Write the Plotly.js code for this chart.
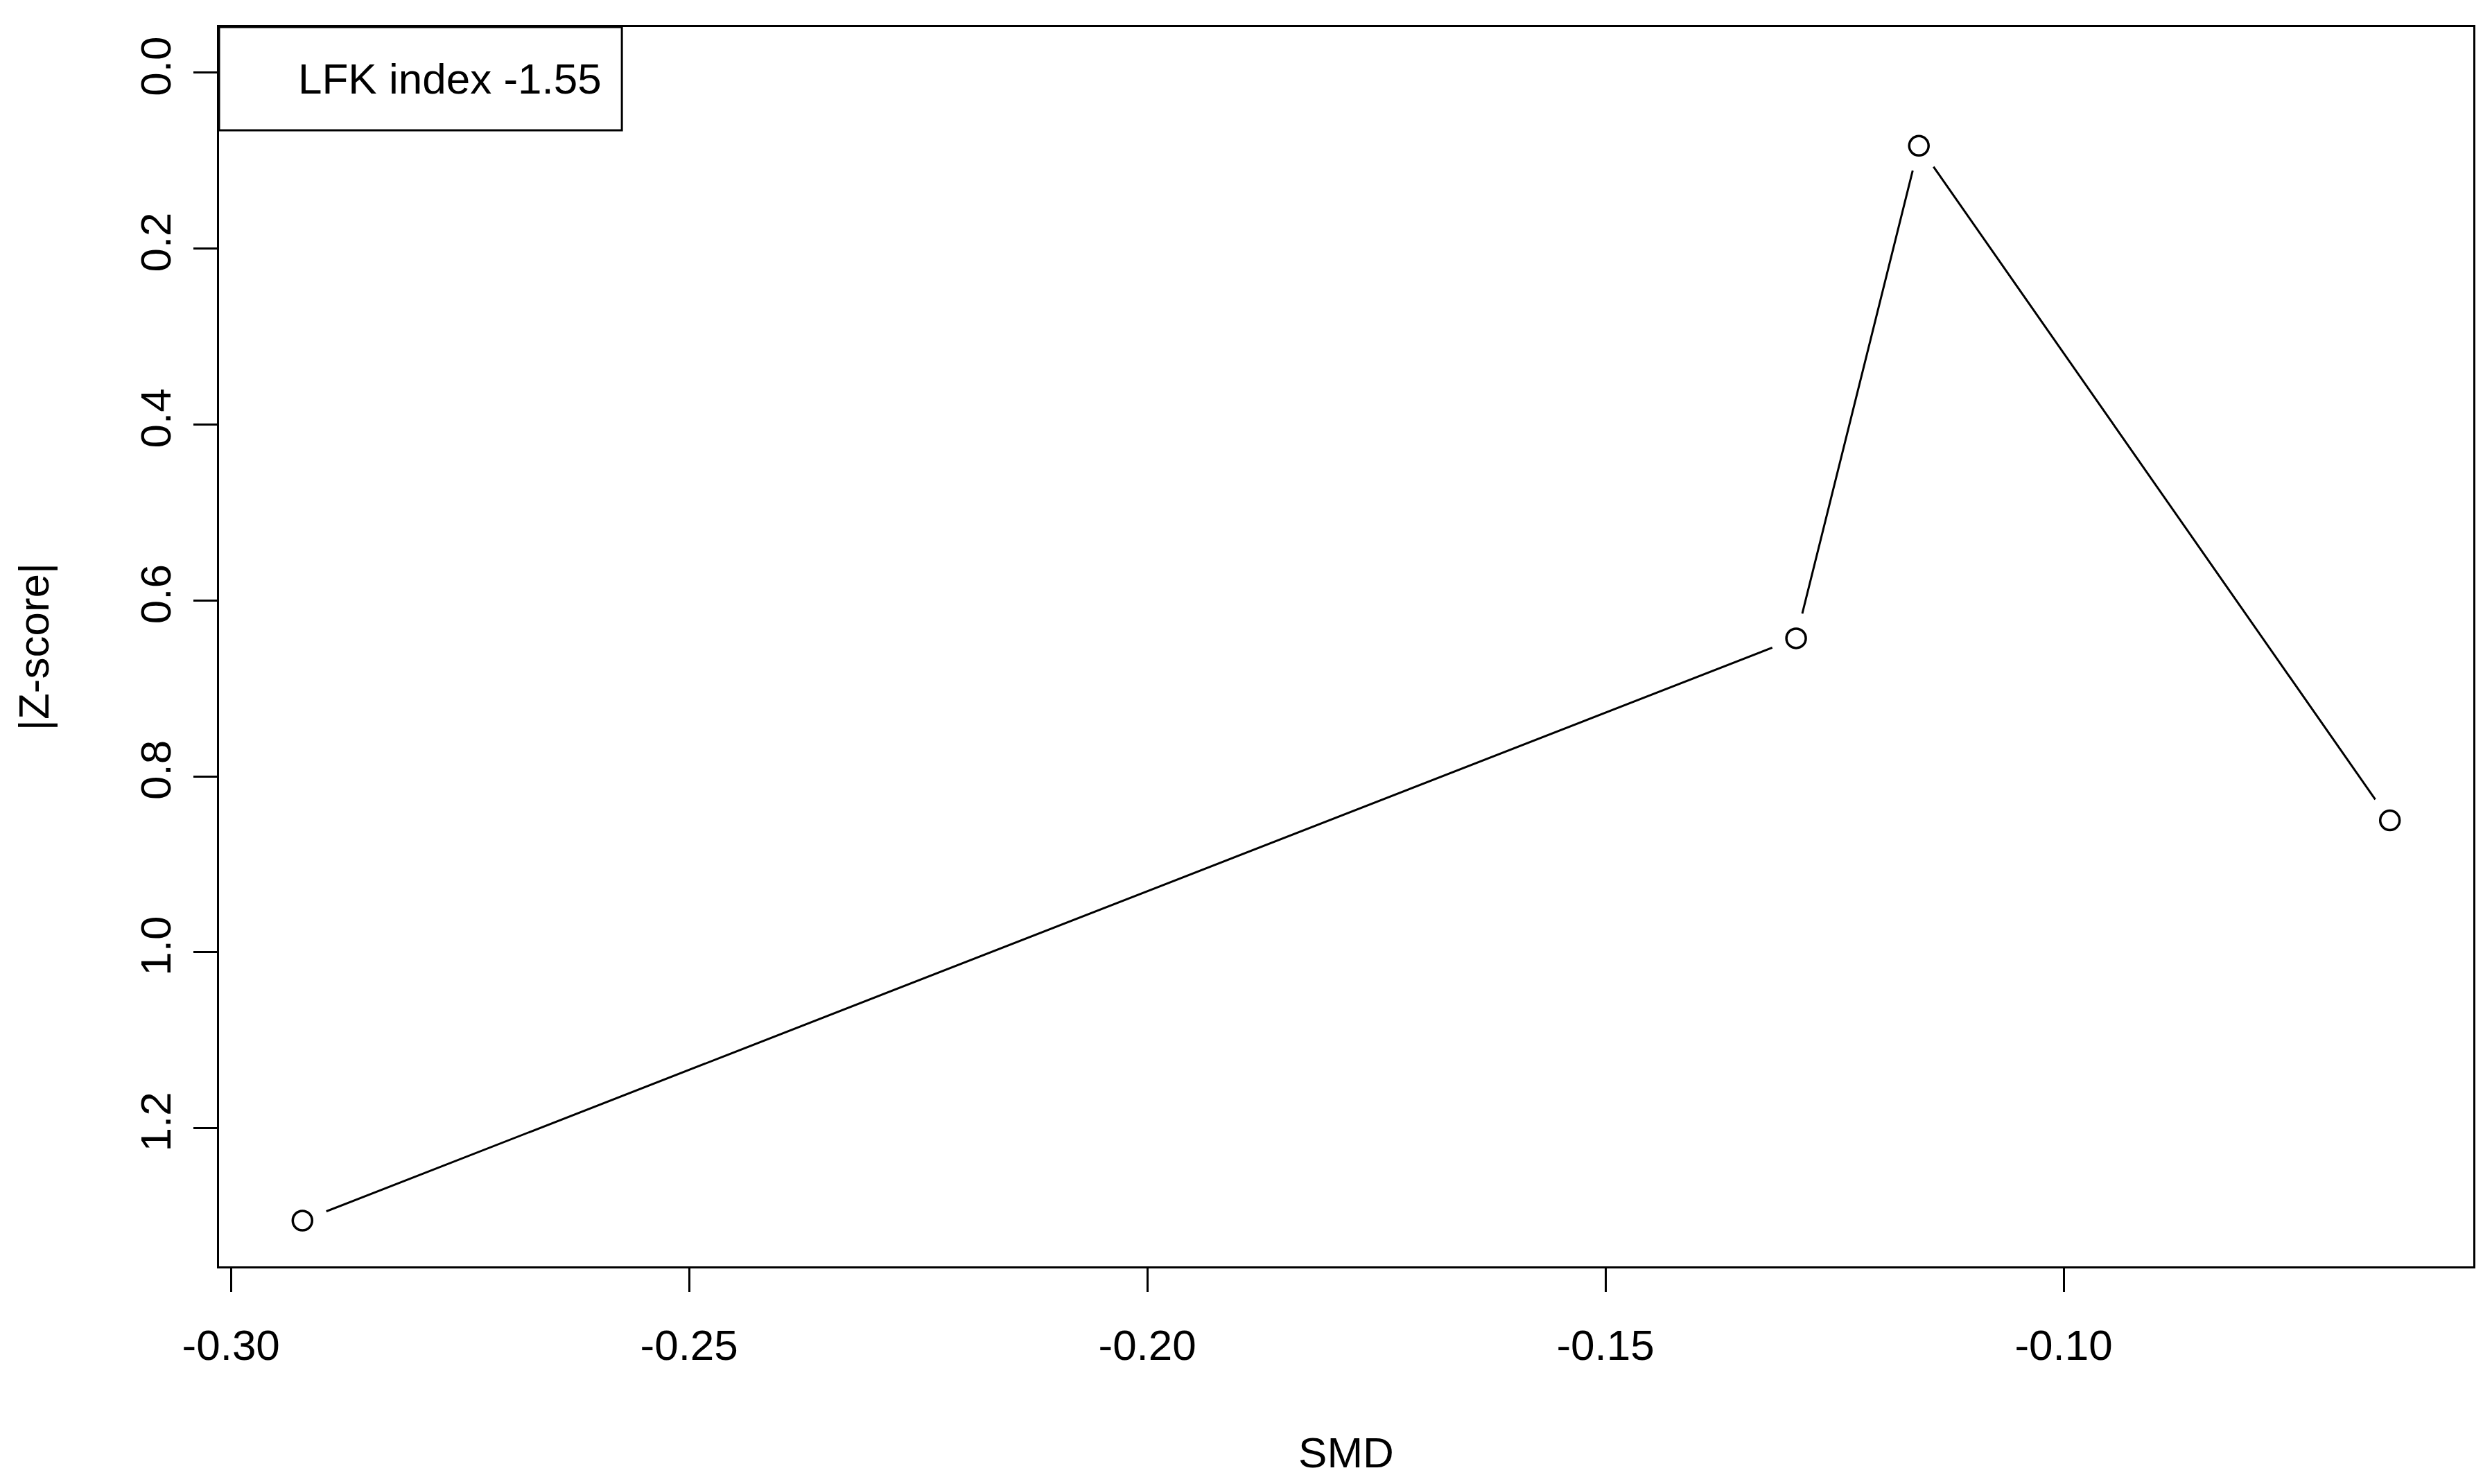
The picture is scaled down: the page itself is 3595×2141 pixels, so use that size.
<!DOCTYPE html>
<html>
<head>
<meta charset="utf-8">
<script src="https://cdn.plot.ly/plotly-3.0.1.min.js"></script>
<style>html,body{margin:0;padding:0;background:#fff;}#chart{width:3595px;height:2141px;}</style>
</head>
<body>
<div id="chart"></div>
<script>
// Data
var smd = [-0.2922, -0.1292, -0.1158, -0.0644];
var zscore = [1.305, 0.643, 0.083, 0.850];
var xTickVals = [-0.30, -0.25, -0.20, -0.15, -0.10];
var xTickText = ['-0.30', '-0.25', '-0.20', '-0.15', '-0.10'];
var yTickVals = [0.0, 0.2, 0.4, 0.6, 0.8, 1.0, 1.2];
var yTickText = ['0.0', '0.2', '0.4', '0.6', '0.8', '1.0', '1.2'];
var legendText = 'LFK index -1.55';
var xTitle = 'SMD';
var yTitle = '|Z-score|';

var FONT = 'Liberation Sans, Arial, Helvetica, sans-serif';
var FS = 62;

var traces = [
  {x: smd, y: zscore, type: 'scatter', mode: 'lines',
   line: {color: '#000', width: 3}, hoverinfo: 'skip', showlegend: false},
  {x: smd, y: zscore, type: 'scatter', mode: 'markers',
   marker: {symbol: 'circle', size: 74, color: '#fff', line: {width: 0}},
   hoverinfo: 'skip', showlegend: false},
  {x: smd, y: zscore, type: 'scatter', mode: 'markers',
   marker: {symbol: 'circle-open', size: 28, color: '#000', line: {width: 3.5, color: '#000'}},
   showlegend: false}
];

var axisCommon = {
  showgrid: false, zeroline: false, showline: true, mirror: true,
  linecolor: '#000', linewidth: 3,
  ticks: 'outside', ticklen: 34, tickwidth: 3, tickcolor: '#000',
  tickfont: {family: FONT, size: FS, color: '#000'},
  automargin: false
};

var layout = {
  width: 3595, height: 2141,
  paper_bgcolor: '#fff', plot_bgcolor: '#fff',
  margin: {l: 316, r: 27, t: 39, b: 314},
  font: {family: FONT, size: FS, color: '#000'},
  showlegend: false,
  xaxis: Object.assign({}, axisCommon, {
    range: [-0.3013, -0.0553],
    tickmode: 'array', tickvals: xTickVals, ticktext: xTickText,
    ticklabelstandoff: 24,
    title: {text: xTitle, font: {family: FONT, size: FS, color: '#000'}, standoff: 100}
  }),
  yaxis: Object.assign({}, axisCommon, {
    range: [1.357, -0.052],
    tickmode: 'array', tickvals: yTickVals, ticktext: yTickText,
    tickangle: -90,
    ticklabelstandoff: 8,
    title: {text: yTitle, font: {family: FONT, size: FS, color: '#000'}, standoff: 100}
  }),
  shapes: [
    {type: 'rect', xref: 'paper', yref: 'paper', x0: 0, x1: 0.1787, y0: 0.9167, y1: 1,
     line: {color: '#000', width: 3}, fillcolor: 'rgba(0,0,0,0)'}
  ],
  annotations: [
    {xref: 'paper', yref: 'paper', x: 0.1705, y: 0.9583, xanchor: 'right', yanchor: 'middle',
     text: legendText, showarrow: false, font: {family: FONT, size: FS, color: '#000'}}
  ]
};

Plotly.newPlot('chart', traces, layout, {displayModeBar: false, staticPlot: true});
</script>
</body>
</html>
